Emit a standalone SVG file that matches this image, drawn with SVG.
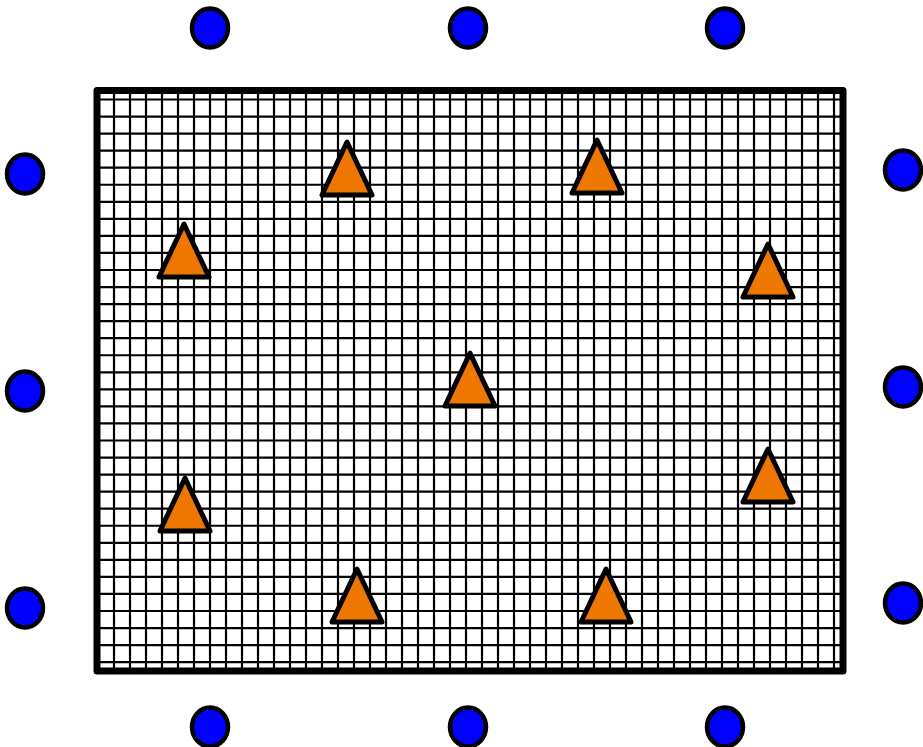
<svg xmlns="http://www.w3.org/2000/svg" width="923" height="747" viewBox="0 0 923 747">
<style>
.grid{fill:none;stroke:#000;stroke-width:2.2}
.frame{fill:none;stroke:#000;stroke-width:7;stroke-linejoin:round}
.dot{fill:#0000FF;stroke:#000;stroke-width:4.5}
.tri{fill:#EE7700;stroke:#000;stroke-width:5;stroke-linejoin:round}
</style>
<defs>
<path id="triShape" d="M0,0 L25,53 L-25,53 Z"/>
</defs>
<rect width="923" height="747" fill="#fff"/>
<g id="board">
<path class="grid" d="M114 90V671M130 90V671M146 90V671M162 90V671M178 90V671M194 90V671M210 90V671M226 90V671M242 90V671M258 90V671M274 90V671M290 90V671M306 90V671M322 90V671M338 90V671M354 90V671M370 90V671M386 90V671M402 90V671M418 90V671M434 90V671M450 90V671M466 90V671M482 90V671M498 90V671M514 90V671M530 90V671M546 90V671M562 90V671M578 90V671M594 90V671M610 90V671M626 90V671M642 90V671M658 90V671M674 90V671M690 90V671M706 90V671M722 90V671M738 90V671M754 90V671M770 90V671M786 90V671M802 90V671M818 90V671M834 90V671"/>
<path class="grid" d="M97 99.5H843M97 116.55H843M97 133.6H843M97 150.65H843M97 167.7H843M97 184.75H843M97 201.8H843M97 218.85H843M97 235.9H843M97 252.95H843M97 270H843M97 287.05H843M97 304.1H843M97 321.15H843M97 338.2H843M97 355.25H843M97 372.3H843M97 389.35H843M97 406.4H843M97 423.45H843M97 440.5H843M97 457.55H843M97 474.6H843M97 491.65H843M97 508.7H843M97 525.75H843M97 542.8H843M97 559.85H843M97 576.9H843M97 593.95H843M97 611H843M97 628.05H843M97 645.1H843M97 662.15H843"/>
<rect class="frame" x="97" y="90.5" width="746" height="580.5"/>
</g>
<g id="connectors"></g>
<g id="tri1"><use href="#triShape" class="tri" x="347" y="142"/></g>
<g id="tri2"><use href="#triShape" class="tri" x="597" y="140"/></g>
<g id="tri3"><use href="#triShape" class="tri" x="184" y="224"/></g>
<g id="tri4"><use href="#triShape" class="tri" x="768" y="244"/></g>
<g id="tri5"><use href="#triShape" class="tri" x="470" y="353"/></g>
<g id="tri6"><use href="#triShape" class="tri" x="185" y="478"/></g>
<g id="tri7"><use href="#triShape" class="tri" x="768" y="449"/></g>
<g id="tri8"><use href="#triShape" class="tri" x="357" y="569"/></g>
<g id="tri9"><use href="#triShape" class="tri" x="606" y="569"/></g>
<g id="dotTop1"><ellipse class="dot" cx="210" cy="28" rx="18" ry="19.5"/></g>
<g id="dotTop2"><ellipse class="dot" cx="468" cy="28" rx="18" ry="19.5"/></g>
<g id="dotTop3"><ellipse class="dot" cx="725" cy="28" rx="18" ry="19.5"/></g>
<g id="dotBottom1"><ellipse class="dot" cx="210" cy="727" rx="18" ry="19.5"/></g>
<g id="dotBottom2"><ellipse class="dot" cx="468" cy="727" rx="18" ry="19.5"/></g>
<g id="dotBottom3"><ellipse class="dot" cx="725" cy="727" rx="18" ry="19.5"/></g>
<g id="dotLeft1"><ellipse class="dot" cx="25" cy="174" rx="18" ry="19.5"/></g>
<g id="dotLeft2"><ellipse class="dot" cx="25" cy="391" rx="18" ry="19.5"/></g>
<g id="dotLeft3"><ellipse class="dot" cx="25" cy="608" rx="18" ry="19.5"/></g>
<g id="dotRight1"><ellipse class="dot" cx="903" cy="170" rx="18" ry="19.5"/></g>
<g id="dotRight2"><ellipse class="dot" cx="903" cy="387" rx="18" ry="19.5"/></g>
<g id="dotRight3"><ellipse class="dot" cx="903" cy="603" rx="18" ry="19.5"/></g>
</svg>
